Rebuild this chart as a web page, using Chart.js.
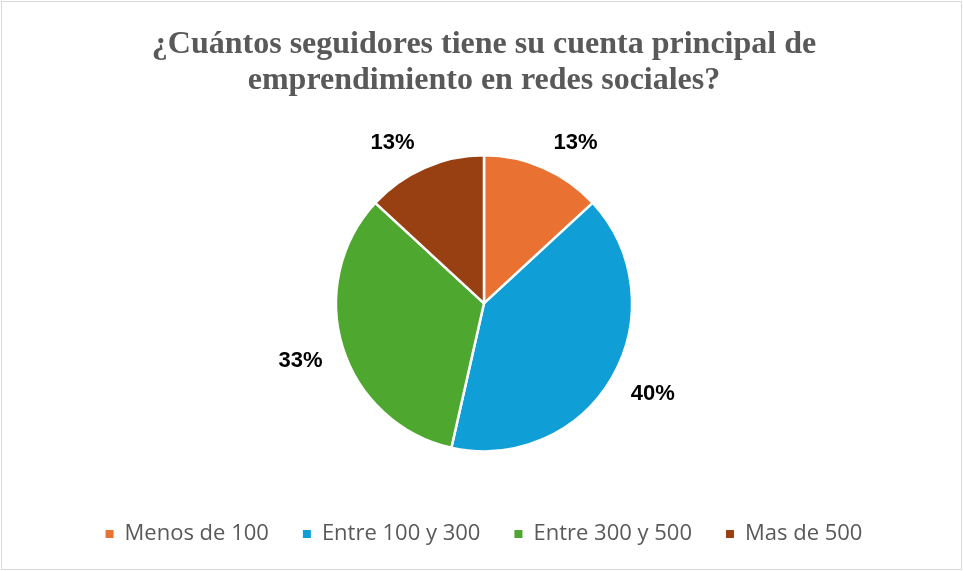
<!DOCTYPE html>
<html>
<head>
<meta charset="utf-8">
<script src="https://cdn.jsdelivr.net/npm/chart.js@4.4.1/dist/chart.umd.min.js"></script>
<style>
  html, body { margin: 0; padding: 0; background: #fff; }
  #frame {
    position: absolute; left: 1px; top: 1px;
    width: 961px; height: 569px;
    box-sizing: border-box;
    border: 1px solid #d9d9d9;
    background: #fff;
  }
  #chPie { display: block; }
</style>
</head>
<body>
<div id="frame"><canvas id="chPie" width="959" height="567"></canvas></div>
<script>
// survey answers, share of respondents (%)
var categories = ["Menos de 100", "Entre 100 y 300", "Entre 300 y 500", "Mas de 500"];
var shares = [13, 40, 33, 13];
var sliceColors = ["#E97132", "#0F9ED5", "#4EA72E", "#984012"];

var titleLines = [
  "¿Cuántos seguidores tiene su cuenta principal de",
  "emprendimiento en redes sociales?"
];

// percent labels just outside each slice, pushed out by the corner nearest the pie
var outsideLabels = {
  id: "outsideLabels",
  afterDatasetsDraw: function (chart) {
    var ctx = chart.ctx;
    var meta = chart.getDatasetMeta(0);
    ctx.save();
    ctx.font = "bold 22px 'Liberation Sans', Arial, sans-serif";
    ctx.fillStyle = "#000000";
    ctx.textAlign = "center";
    ctx.textBaseline = "middle";
    meta.data.forEach(function (arc, i) {
      var p = arc.getProps(["x", "y", "startAngle", "endAngle", "outerRadius"], true);
      var mid = (p.startAngle + p.endAngle) / 2;
      var dx = Math.cos(mid), dy = Math.sin(mid);
      var r = p.outerRadius + 18;
      var text = shares[i] + "%";
      var w = ctx.measureText(text).width;
      var h = 16;
      var x = p.x + dx * r + Math.sign(dx) * (w / 2 + 3);
      var y = p.y + dy * r + Math.sign(dy) * h / 2;
      ctx.fillText(text, x, y);
    });
    ctx.restore();
  }
};

// legend squares without the white slice border
var pieLegendLabels = Chart.overrides.pie.plugins.legend.labels.generateLabels;

var chPie = document.getElementById("chPie");
if (chPie) {
  new Chart(chPie, {
    type: "pie",
    data: {
      labels: categories,
      datasets: [
        {
          data: shares,
          backgroundColor: sliceColors,
          borderColor: "#ffffff",
          borderWidth: 2.5
        }
      ]
    },
    options: {
      responsive: false,
      animation: false,
      radius: 148,
      layout: { padding: { left: 5, right: 0, top: 0, bottom: 14 } },
      plugins: {
        title: {
          display: true,
          text: titleLines,
          color: "#595959",
          font: { family: "'Liberation Serif', 'Times New Roman', serif", size: 32, weight: "bold", lineHeight: 1.12 },
          padding: { top: 25, bottom: 19 }
        },
        legend: {
          position: "bottom",
          labels: {
            color: "#595959",
            font: { family: "'Open Sans', sans-serif", size: 22 },
            boxWidth: 8,
            boxHeight: 8,
            padding: 34,
            generateLabels: function (chart) {
              return pieLegendLabels(chart).map(function (item) {
                item.lineWidth = 0;
                item.strokeStyle = item.fillStyle;
                return item;
              });
            }
          }
        },
        tooltip: { enabled: false }
      }
    },
    plugins: [outsideLabels]
  });
}
</script>
</body>
</html>
